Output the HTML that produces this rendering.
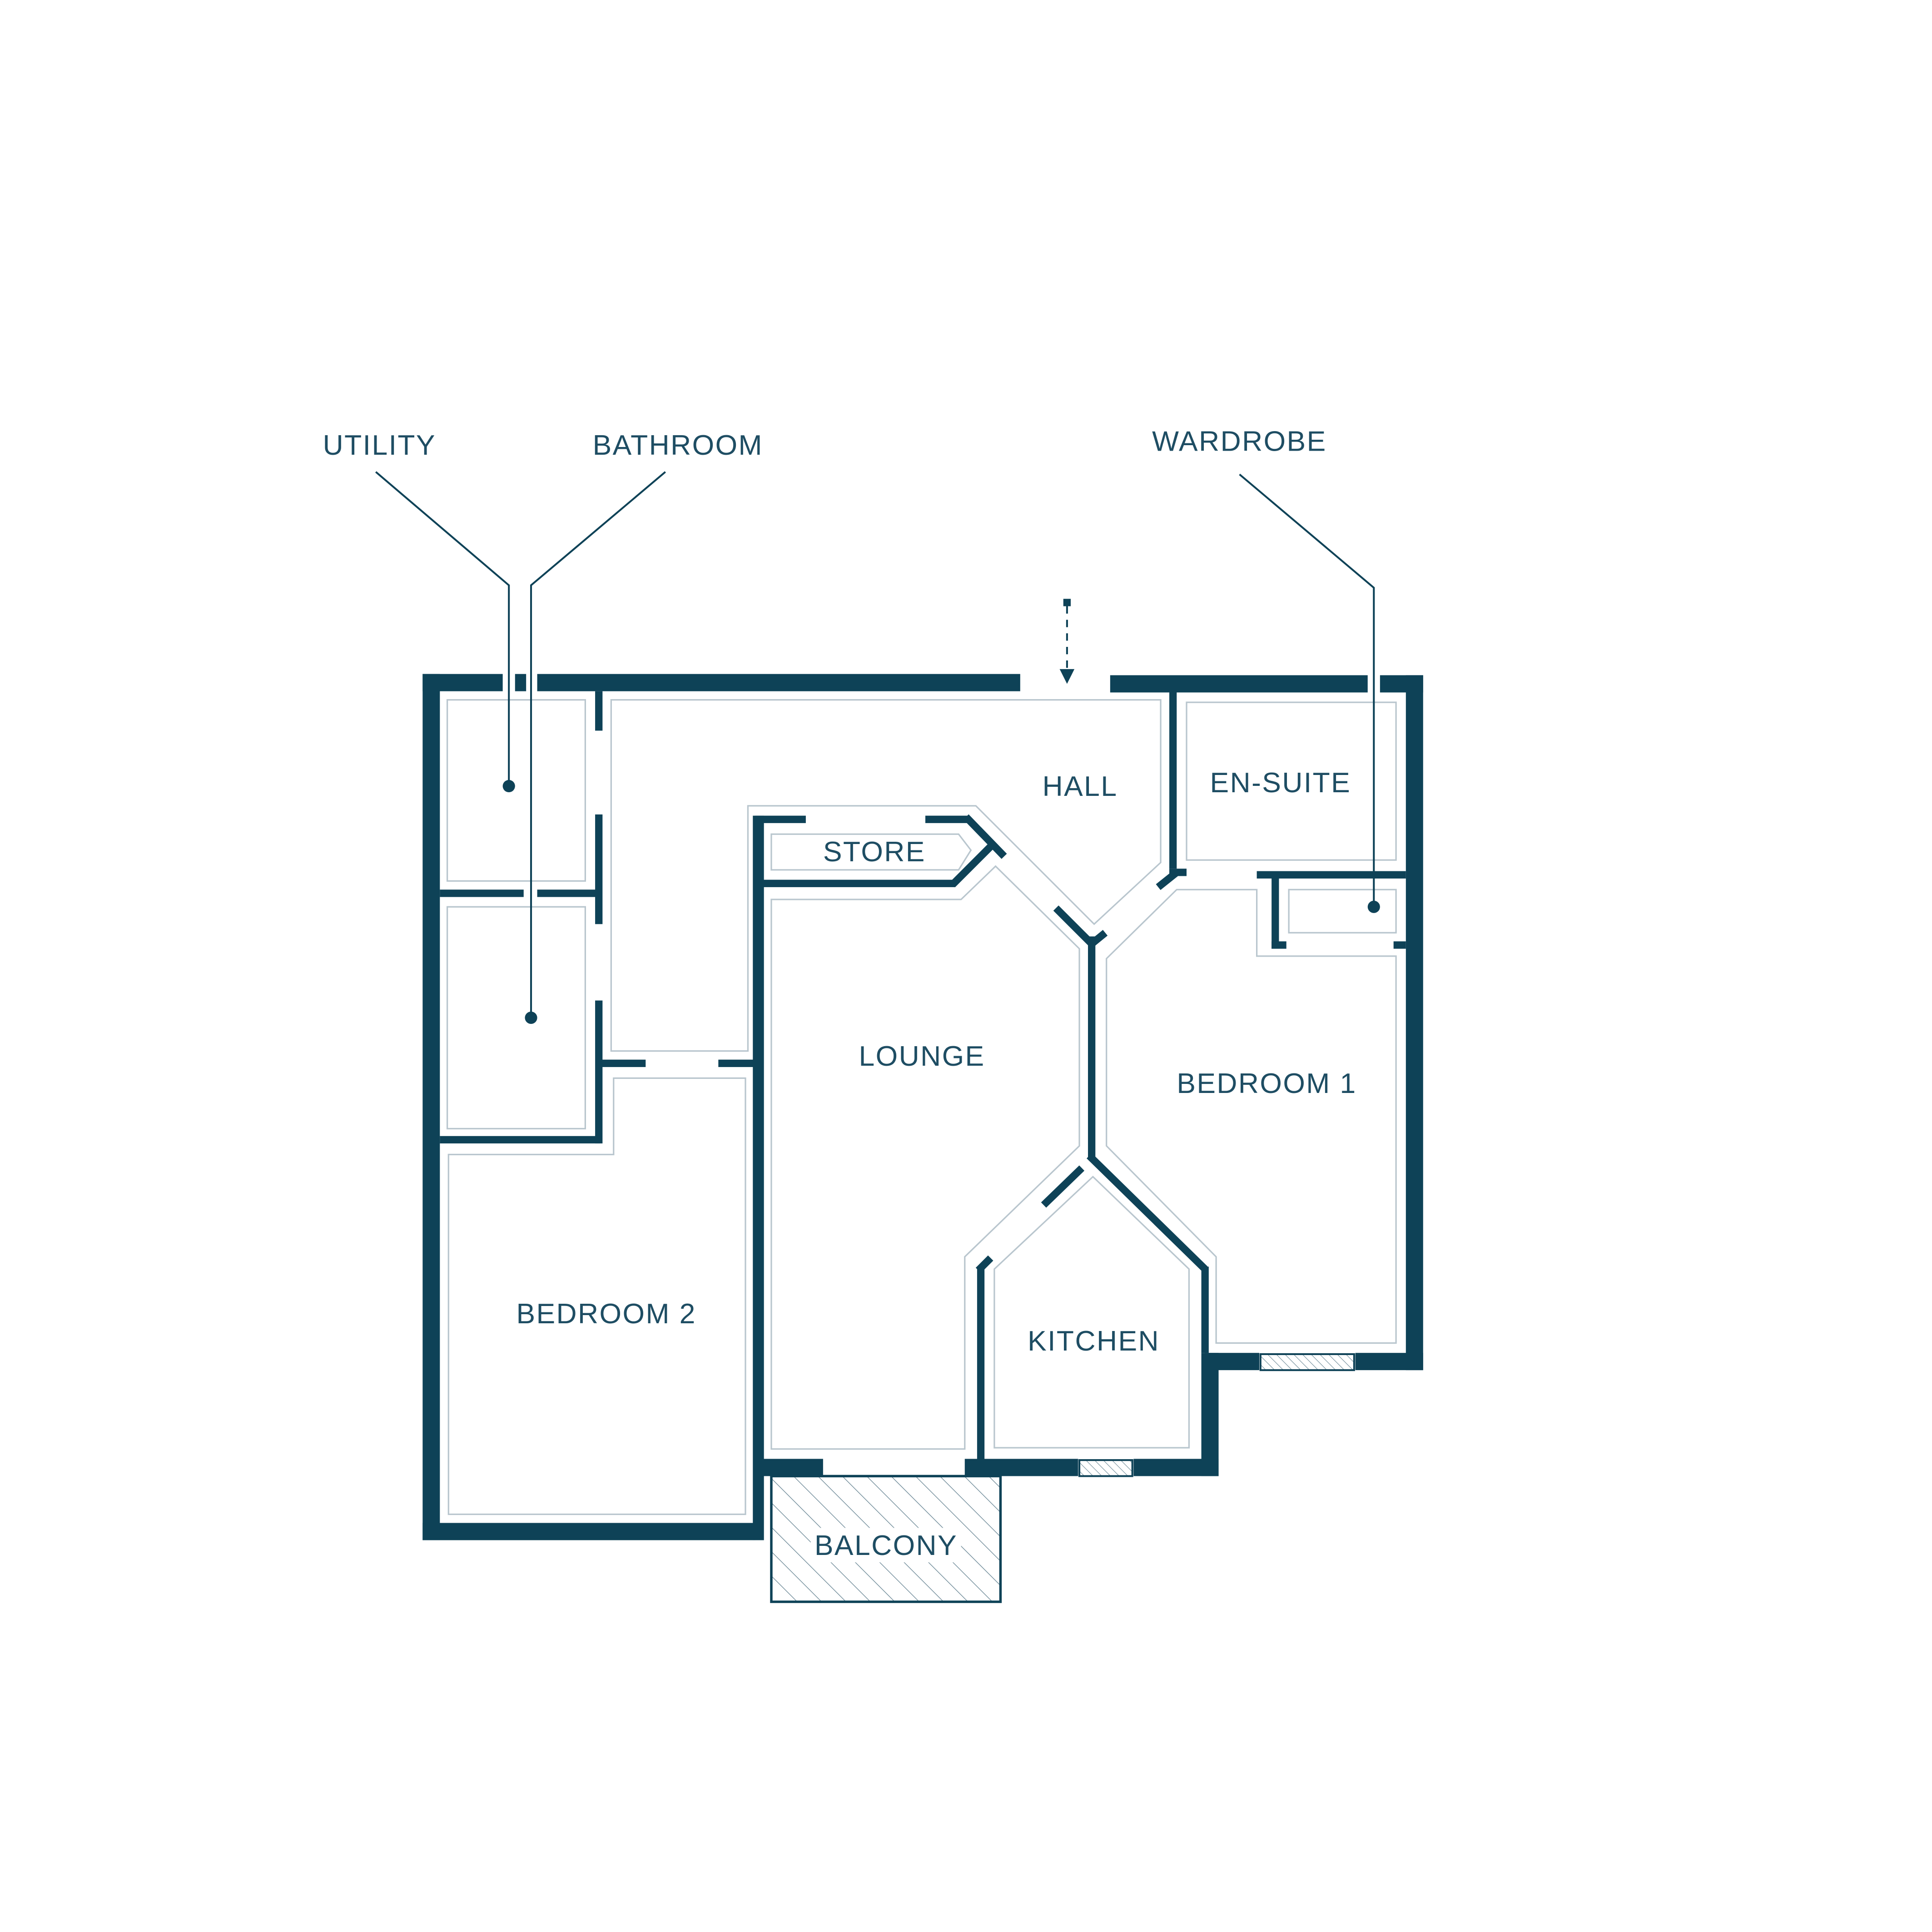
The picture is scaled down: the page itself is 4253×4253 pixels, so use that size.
<!DOCTYPE html>
<html><head><meta charset="utf-8"><style>
html,body{margin:0;padding:0;background:#fff}
svg{display:block}
text{font-family:"Liberation Sans",sans-serif;font-size:23px;fill:#1e4d63;font-weight:normal;letter-spacing:0.9px}
</style></head><body>
<svg width="4253" height="4253" viewBox="0 0 1568 1568" xmlns="http://www.w3.org/2000/svg">
<defs>
<pattern id="h" width="14" height="14" patternUnits="userSpaceOnUse" patternTransform="rotate(-45)">
<line x1="0" y1="0" x2="0" y2="14" stroke="#6a8795" stroke-width="1"/></pattern>
<pattern id="h2" width="5" height="5" patternUnits="userSpaceOnUse" patternTransform="rotate(-45)">
<line x1="0" y1="0" x2="0" y2="5" stroke="#6a8795" stroke-width="0.8"/></pattern>
</defs>
<g fill="none" stroke="#b9c6ce" stroke-width="1.2">
<rect x="363" y="568" width="112" height="147"/>
<rect x="363" y="736" width="112" height="180"/>
<polygon points="496,568 942,568 942,700 888,750 792,654 607,654 607,853 496,853"/>
<polygon points="498,875 605,875 605,1229 364,1229 364,937 498,937"/>
<polygon points="626,677 778,677 788,690 778,706 626,706"/>
<polygon points="626,730 780,730 808,703 876,770 876,930 783,1020 783,1176 626,1176"/>
<polygon points="898,778 955,722 1020,722 1020,776 1133,776 1133,1090 987,1090 987,1020 898,930"/>
<rect x="963" y="570" width="170" height="128"/>
<rect x="1046" y="722" width="87" height="35"/>
<polygon points="887,955 965,1030 965,1175 807,1175 807,1030"/>
</g>
<g fill="#0e4257">
<rect x="343" y="547" width="14" height="703"/>
<rect x="343" y="547" width="65" height="14"/>
<rect x="418" y="547" width="9" height="14"/>
<rect x="436" y="547" width="392" height="14"/>
<rect x="901" y="548" width="209" height="14"/>
<rect x="1120" y="548" width="35" height="14"/>
<rect x="1141" y="548" width="14" height="564"/>
<rect x="1100" y="1098" width="55" height="14"/>
<rect x="978" y="1098" width="44" height="14"/>
<rect x="975" y="1098" width="14" height="100"/>
<rect x="920" y="1184" width="69" height="14"/>
<rect x="783" y="1184" width="92" height="14"/>
<rect x="613" y="1184" width="55" height="14"/>
<rect x="343" y="1236" width="270" height="14"/>
<rect x="611" y="662" width="9" height="588"/>
<rect x="357" y="722" width="68" height="6"/>
<rect x="436" y="722" width="51" height="6"/>
<rect x="357" y="922" width="130" height="6"/>
<rect x="483" y="561" width="6" height="32"/>
<rect x="483" y="661" width="6" height="89"/>
<rect x="483" y="812" width="6" height="116"/>
<rect x="487" y="860" width="37" height="6"/>
<rect x="583" y="860" width="30" height="6"/>
<rect x="613" y="662" width="41" height="6"/>
<rect x="751" y="662" width="35" height="6"/>
<rect x="613" y="714" width="162" height="6"/>
<rect x="883" y="760" width="6" height="180"/>
<rect x="975" y="1028" width="6" height="70"/>
<rect x="793" y="1028" width="6" height="162"/>
<rect x="949" y="561" width="6" height="144"/>
<rect x="1020" y="707" width="121" height="6"/>
<rect x="1032" y="710" width="6" height="60"/>
<rect x="1032" y="764" width="12" height="6"/>
<rect x="1131" y="764" width="10" height="6"/>
<rect x="949" y="705" width="14" height="6"/>
</g>
<g stroke="#0e4257" stroke-width="6" fill="none" stroke-linecap="butt">
<line x1="784" y1="663" x2="815" y2="695"/>
<line x1="773" y1="718" x2="805" y2="686"/>
<line x1="857" y1="737" x2="886" y2="766"/>
<line x1="886" y1="766" x2="897" y2="757"/>
<line x1="884" y1="938" x2="978" y2="1030"/>
<line x1="847" y1="978" x2="878" y2="948"/>
<line x1="794" y1="1031" x2="804" y2="1021"/>
<line x1="940" y1="720" x2="955" y2="708"/>
</g>
<rect x="1023" y="1099" width="76" height="13" fill="url(#h2)" stroke="#0e4257" stroke-width="1.5"/>
<rect x="876" y="1185" width="43" height="13" fill="url(#h2)" stroke="#0e4257" stroke-width="1.5"/>
<rect x="626" y="1198" width="186" height="102" fill="url(#h)" stroke="#0e4257" stroke-width="2"/>
<rect x="658" y="1240" width="122" height="28" fill="#fff"/>
<g stroke="#0e4257" stroke-width="1.5" fill="none">
<polyline points="305,383 413,475 413,638"/>
<polyline points="540,383 431,475 431,826"/>
<polyline points="1006,385 1115,477 1115,736"/>
<line x1="866" y1="492" x2="866" y2="545" stroke-dasharray="6,5"/>
</g>
<g fill="#0e4257">
<circle cx="413" cy="638" r="5"/>
<circle cx="431" cy="826" r="5"/>
<circle cx="1115" cy="736" r="5"/>
<rect x="863" y="486" width="6" height="6"/>
<polygon points="860,543 872,543 866,555"/>
</g>
<text x="262" y="369">UTILITY</text>
<text x="481" y="369">BATHROOM</text>
<text x="935" y="366">WARDROBE</text>
<text x="846" y="646">HALL</text>
<text x="982" y="643">EN-SUITE</text>
<text x="668" y="699">STORE</text>
<text x="697" y="865">LOUNGE</text>
<text x="955" y="887">BEDROOM 1</text>
<text x="419" y="1074">BEDROOM 2</text>
<text x="834" y="1096">KITCHEN</text>
<text x="661" y="1262">BALCONY</text>
</svg>
</body></html>
